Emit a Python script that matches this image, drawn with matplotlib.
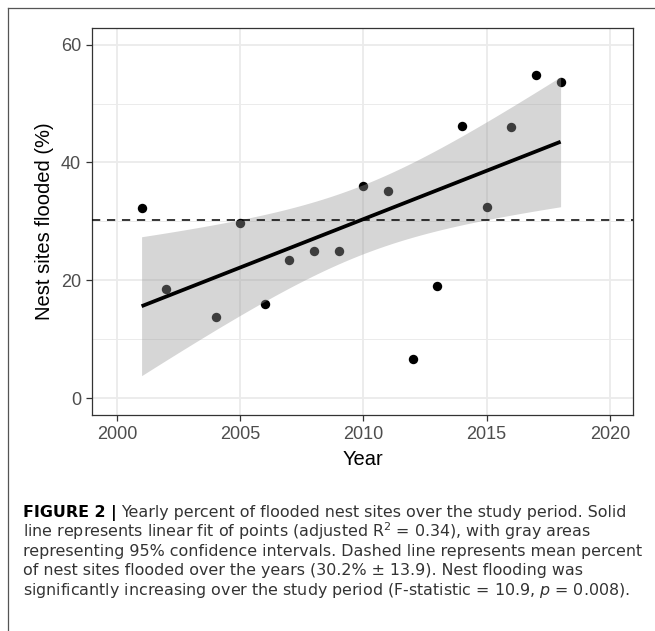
import numpy as np
import matplotlib
matplotlib.use("Agg")
import matplotlib.pyplot as plt
from matplotlib.lines import Line2D

plt.rcParams['font.family'] = ['Liberation Sans', 'DejaVu Sans']
plt.rcParams['mathtext.fontset'] = 'custom'
plt.rcParams['mathtext.rm'] = 'DejaVu Sans'
plt.rcParams['mathtext.it'] = 'DejaVu Sans:italic'
plt.rcParams['mathtext.bf'] = 'DejaVu Sans:bold'

# data
years = [2001, 2002, 2004, 2005, 2006, 2007, 2008, 2009, 2010,
         2011, 2012, 2013, 2014, 2015, 2016, 2017, 2018]
flooded = [32.3, 18.5, 13.75, 29.65, 15.96, 23.37, 25.0, 25.0, 36.0,
           35.2, 6.68, 18.96, 46.12, 32.43, 45.95, 54.78, 53.59]
x_ticks = [2000, 2005, 2010, 2015, 2020]
y_ticks = [0, 20, 40, 60]
y_minor = [10, 30, 50]
t_975 = 2.131  # t quantile, df = 15

caption_bold = "FIGURE 2 |"
caption_lines = [
    "Yearly percent of flooded nest sites over the study period. Solid",
    "line represents linear fit of points (adjusted R$^2$ = 0.34), with gray areas",
    "representing 95% confidence intervals. Dashed line represents mean percent",
    "of nest sites flooded over the years (30.2% \u00b1 13.9). Nest flooding was",
    "significantly increasing over the study period (F-statistic = 10.9, $p$ = 0.008).",
]

W, H = 655, 631
fig = plt.figure(figsize=(W / 100, H / 100), dpi=100)

x = np.array(years, dtype=float)
y = np.array(flooded)

# linear fit + 95% CI (like geom_smooth(method = "lm"))
slope, icpt = np.polyfit(x, y, 1)
xs = np.linspace(x.min(), x.max(), 80)
fit = icpt + slope * xs
resid = y - (icpt + slope * x)
s = np.sqrt(np.sum(resid ** 2) / (len(x) - 2))
se = s * np.sqrt(1 / len(x) + (xs - x.mean()) ** 2 / np.sum((x - x.mean()) ** 2))

ax = fig.add_axes([92.3 / W, 1 - 415 / H, (633.3 - 92.3) / W, (415 - 27.5) / H])
ax.set_facecolor('white')
ax.set_axisbelow(True)

ax.scatter(x, y, s=46, color='black', linewidths=0, zorder=2)
ax.fill_between(xs, fit - t_975 * se, fit + t_975 * se, color='#999999', alpha=0.4,
                linewidth=0, zorder=3)
ax.plot(xs, fit, color='black', lw=2.7, zorder=4, solid_capstyle='butt')
ax.axhline(np.mean(y), color='black', lw=1.1, dashes=(5.4, 4.4), zorder=5)

ax.set_xlim(1999.0, 2020.95)
ax.set_ylim(-2.85, 62.9)
ax.set_xticks(x_ticks)
ax.set_yticks(y_ticks)
ax.set_yticks(y_minor, minor=True)
ax.grid(True, which='major', color='#EBEBEB', lw=1.3)
ax.grid(True, which='minor', axis='y', color='#EBEBEB', lw=0.7)
ax.tick_params(which='minor', length=0)
ax.tick_params(which='major', length=4.5, width=0.9, color='#333333',
               labelcolor='#4D4D4D', labelsize=13, pad=3.5)
for sp in ax.spines.values():
    sp.set_color('#333333')
    sp.set_linewidth(0.9)

ax.set_xlabel("Year", fontsize=14.5, va='center')
ax.xaxis.set_label_coords(0.5, -0.116)
ax.set_ylabel("Nest sites flooded (%)", fontsize=14.5, va='center')
ax.yaxis.set_label_coords(-0.0882, 0.5)

# outer frame of the figure panel
fx0 = 7.7 / W
fy0 = 1 - 8.3 / H
fig.add_artist(Line2D([fx0, 1.0], [fy0, fy0], transform=fig.transFigure,
                      color='#555555', lw=0.9))
fig.add_artist(Line2D([fx0, fx0], [fy0, 0.0], transform=fig.transFigure,
                      color='#555555', lw=0.9))

# caption
cap_font = ['DejaVu Sans']
cap_size = 11.2
cap_x = 22.7 / W
targets = {0: 627.0, 2: 635.0}  # right ends of lines 1 and 3 in the original
baselines = [517.3, 536.7, 556.1, 575.5, 594.9]
tb = fig.text(cap_x, 1 - baselines[0] / H, caption_bold, fontsize=cap_size,
              family=cap_font, fontweight='bold', color='black', va='baseline')
texts = []
for i, line in enumerate(caption_lines):
    texts.append(fig.text(cap_x, 1 - baselines[i] / H, line, fontsize=cap_size,
                          family=cap_font, color='#333333', va='baseline'))

# fit the caption size so the lines span about the same width as the original
for _ in range(3):
    fig.canvas.draw()
    texts[0].set_x((tb.get_window_extent().x1 + 5) / W)
    fig.canvas.draw()
    k = min((r - cap_x * W) / (texts[i].get_window_extent().x1 - cap_x * W)
            for i, r in targets.items())
    cap_size *= k
    tb.set_fontsize(cap_size)
    for t in texts:
        t.set_fontsize(cap_size)
fig.canvas.draw()
texts[0].set_x((tb.get_window_extent().x1 + 5) / W)

fig.savefig("out.png", dpi=100)
